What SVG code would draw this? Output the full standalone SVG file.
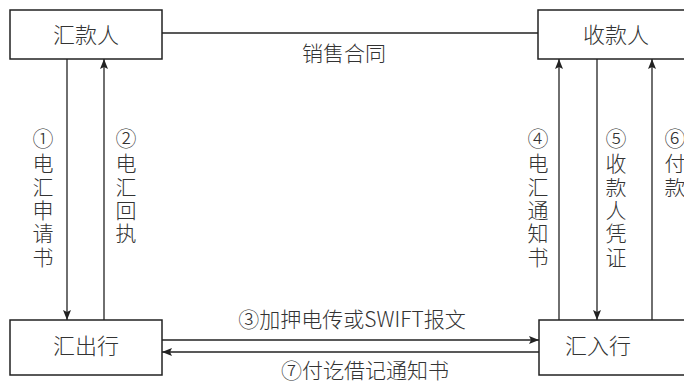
<svg xmlns="http://www.w3.org/2000/svg" width="684" height="383" viewBox="0 0 684 383">
<defs>
<marker id="ah" viewBox="0 0 10 10" refX="10" refY="5" markerWidth="10" markerHeight="10" markerUnits="userSpaceOnUse" orient="auto">
<path d="M0,1 L10,5 L0,9 L2,5 z" fill="#222"/>
</marker>
</defs>
<style>
.box{fill:#fff;stroke:#222;stroke-width:1.5}
.ln{stroke:#222;stroke-width:1.3;fill:none}
.t{font-family:"Noto Sans CJK SC","Noto Sans",sans-serif;font-size:21px;fill:#333;text-anchor:middle;font-weight:300}
.bt{font-family:"Noto Sans CJK SC","Noto Sans",sans-serif;font-size:22px;fill:#333;text-anchor:middle;font-weight:300}
</style>
<rect width="684" height="383" fill="#fff"/>
<g id="connectors">
<line class="ln" x1="162" y1="33" x2="538" y2="33"/>
<line class="ln" x1="67" y1="59" x2="67" y2="320" marker-end="url(#ah)"/>
<line class="ln" x1="104" y1="320" x2="104" y2="59" marker-end="url(#ah)"/>
<line class="ln" x1="559" y1="320" x2="559" y2="59" marker-end="url(#ah)"/>
<line class="ln" x1="597" y1="59" x2="597" y2="320" marker-end="url(#ah)"/>
<line class="ln" x1="652" y1="320" x2="652" y2="59" marker-end="url(#ah)"/>
<line class="ln" x1="162" y1="340" x2="539" y2="340" marker-end="url(#ah)"/>
<line class="ln" x1="539" y1="352" x2="162" y2="352" marker-end="url(#ah)"/>
<text class="t" x="344" y="61">销售合同</text>
<g class="t">
<text x="43" y="146">①</text><text x="43" y="171">电</text><text x="43" y="195">汇</text><text x="43" y="218">申</text><text x="43" y="241">请</text><text x="43" y="265">书</text>
<text x="126" y="146">②</text><text x="126" y="171">电</text><text x="126" y="195">汇</text><text x="126" y="218">回</text><text x="126" y="241">执</text>
<text x="538" y="146">④</text><text x="538" y="171">电</text><text x="538" y="195">汇</text><text x="538" y="218">通</text><text x="538" y="241">知</text><text x="538" y="265">书</text>
<text x="616" y="146">⑤</text><text x="616" y="171">收</text><text x="616" y="195">款</text><text x="616" y="218">人</text><text x="616" y="241">凭</text><text x="616" y="265">证</text>
<text x="675" y="146">⑥</text><text x="675" y="171">付</text><text x="675" y="195">款</text>
</g>
<text class="t" x="352" y="327">③加押电传或SWIFT报文</text>
<text class="t" x="365" y="378">⑦付讫借记通知书</text>
</g>
<g id="remitter"><rect class="box" x="10" y="10" width="152" height="49"/><text class="bt" x="86" y="43">汇款人</text></g>
<g id="payee"><rect class="box" x="538" y="10" width="160" height="49"/><text class="bt" x="616" y="43">收款人</text></g>
<g id="remitting-bank"><rect class="box" x="10" y="320" width="152" height="55"/><text class="bt" x="86" y="354">汇出行</text></g>
<g id="paying-bank"><rect class="box" x="539" y="320" width="160" height="55"/><text class="bt" x="598" y="354">汇入行</text></g>
</svg>
